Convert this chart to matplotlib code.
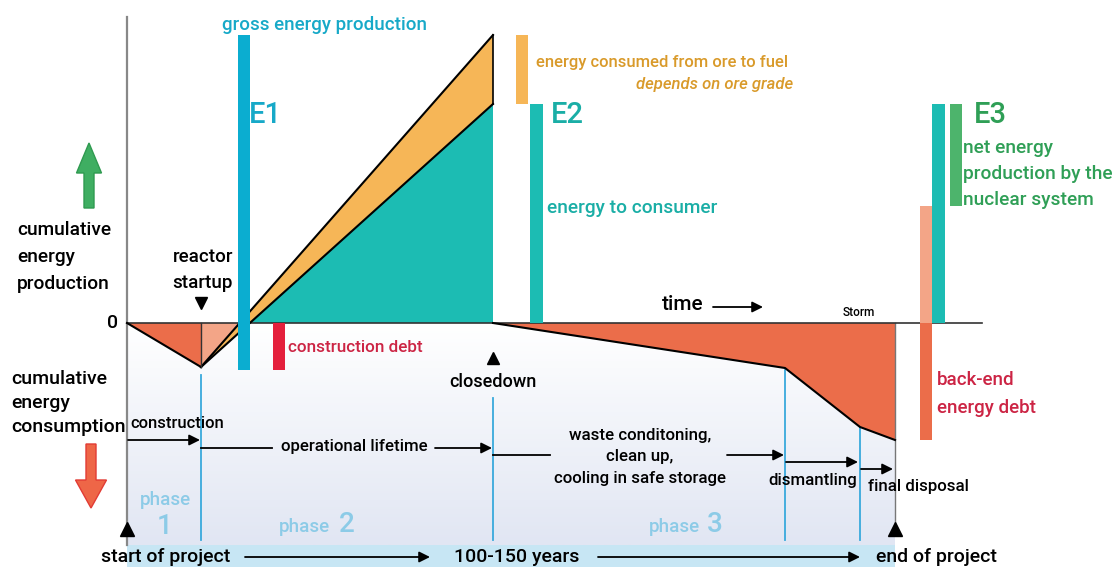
import numpy as np
import matplotlib.pyplot as plt
from matplotlib.patches import Polygon, FancyArrow, Rectangle
from matplotlib.colors import LinearSegmentedColormap

plt.rcParams['font.family'] = ['Roboto', 'DejaVu Sans']
plt.rcParams['font.weight'] = 'medium'

# time axis (arbitrary units): start, reactor startup, closedown,
# start dismantling, start final disposal, end of project
phase_times = [0, 74, 366, 658, 733, 768]
construction_debt = -44
gross_energy = 288      # E1 top
consumer_energy = 219   # E2 / net line at closedown
backend_times = [366, 658, 733, 768]
backend_energy = [0, -45, -104, -117]
backend_debt = -117
net_energy_top = consumer_energy
net_energy_bottom = -backend_debt   # 117

TEAL = '#1cbcb3'
CYAN = '#0badd0'
ORANGE = '#f6b657'
SALMON = '#f3a587'
ORED = '#eb6d4a'
RED = '#e41f3c'
GREEN = '#4db46c'
BLUE_LINE = '#39a9dc'
PHASE_TXT = '#8ccbe7'

fig = plt.figure(figsize=(11.13, 5.67), dpi=100)
ax = fig.add_axes([0, 0, 1, 1])
ax.set_xlim(-127, 986)
ax.set_ylim(-244, 323)
ax.axis('off')

t0, t_start, t_close, t_dism, t_disp, t_end = phase_times

# background gradient below zero
grad = np.linspace(0, 1, 200).reshape(-1, 1)
cmap = LinearSegmentedColormap.from_list('bg', ['#ffffff', '#e1e6f3'])
ax.imshow(grad, extent=[t0, t_end, -222, 0], origin='upper', aspect='auto',
          cmap=cmap, zorder=0)
ax.add_patch(Rectangle((t0, -244), t_end - t0, 22, color='#c7e6f4', lw=0, zorder=0.5))

# lines from startup
def line_at(y, top):
    return t_start + (y - construction_debt) * (t_close - t_start) / (top - construction_debt)

x_gross0 = line_at(0, gross_energy)
x_net0 = line_at(0, consumer_energy)

# construction triangle
ax.add_patch(Polygon([(t0, 0), (t_start, construction_debt), (t_start, 0)],
                     closed=True, fc=ORED, ec='none', zorder=2))
ax.add_patch(Polygon([(t_start, 0), (t_start, construction_debt), (x_gross0, 0)],
                     closed=True, fc=SALMON, ec='none', zorder=2))
# orange wedge (ore to fuel)
ax.add_patch(Polygon([(t_start, construction_debt), (t_close, gross_energy),
                      (t_close, consumer_energy)],
                     closed=True, fc=ORANGE, ec='none', zorder=2))
# teal triangle
ax.add_patch(Polygon([(x_net0, 0), (t_close, consumer_energy), (t_close, 0)],
                     closed=True, fc=TEAL, ec='none', zorder=2.5))
ax.plot([t_start, t_close], [construction_debt, gross_energy], color='black', lw=1.5, zorder=4)
ax.plot([t_start, t_close], [construction_debt, consumer_energy], color='black', lw=1.5, zorder=4)
ax.plot([t_close, t_close], [consumer_energy, gross_energy], color='black', lw=1.2, zorder=4)
ax.plot([t0, t_start], [0, construction_debt], color='black', lw=1.5, zorder=4)
ax.plot([t_start, t_start], [0, construction_debt], color='#333333', lw=1, zorder=4)

# back-end debt
ax.add_patch(Polygon(list(zip(backend_times, backend_energy)) + [(t_end, 0)],
                     closed=True, fc=ORED, ec='none', zorder=2))
ax.plot(backend_times, backend_energy, color='black', lw=1.5, zorder=4)
ax.plot([t_end, t_end], [0, -212], color='#777777', lw=1, zorder=3)

# axes
ax.plot([0, 0], [306, -222], color='#888888', lw=1.6, zorder=3)
ax.plot([0, 855], [0, 0], color='#333333', lw=1.2, zorder=3)

# bars
bw = 12
ax.add_patch(Rectangle((117 - bw / 2, construction_debt - 3), bw,
                       gross_energy - construction_debt + 3, color=CYAN, lw=0, zorder=5))
ax.add_patch(Rectangle((152 - bw / 2, construction_debt - 3), bw, -construction_debt + 3,
                       color=RED, lw=0, zorder=5))
ax.add_patch(Rectangle((395 - bw / 2, consumer_energy), bw, gross_energy - consumer_energy,
                       color=ORANGE, lw=0, zorder=5))
ax.add_patch(Rectangle((409.5 - 6.5, 0), 13, consumer_energy, color=TEAL, lw=0, zorder=5))
ax.add_patch(Rectangle((799 - bw / 2, 0), bw, net_energy_bottom, color=SALMON, lw=0, zorder=5))
ax.add_patch(Rectangle((799 - bw / 2, backend_debt), bw, -backend_debt, color=ORED, lw=0, zorder=5))
ax.add_patch(Rectangle((811.5 - 6.5, 0), 13, consumer_energy, color=TEAL, lw=0, zorder=5))
ax.add_patch(Rectangle((829 - bw / 2, net_energy_bottom), bw, net_energy_top - net_energy_bottom,
                       color=GREEN, lw=0, zorder=5))

# phase divider lines
for t, top in zip(phase_times[1:5], [-52, -75, -47, -104]):
    ax.plot([t, t], [top, -217], color=BLUE_LINE, lw=1.3, zorder=3)

# markers
ax.plot([t_start], [20], marker='v', color='black', ms=9, zorder=6)
ax.plot([t_close], [-35], marker='^', color='black', ms=9, zorder=6)
ax.plot([t0, t_end], [-206, -206], ls='none', marker='^', color='black', ms=10, zorder=6)

# big up/down arrows
ax.add_patch(FancyArrow(-38, 115, 0, 65, width=10, head_width=25,
                        head_length=30, length_includes_head=True,
                        fc='#3fae62', ec='#2f9a50', lw=1, zorder=5))
ax.add_patch(FancyArrow(-36, -121, 0, -64, width=10, head_width=31,
                        head_length=28, length_includes_head=True,
                        fc='#ee6647', ec='#e23b34', lw=1, zorder=5))

# timeline arrows
arr = dict(arrowstyle='-|>', color='black', lw=1.3, mutation_scale=16, shrinkA=0, shrinkB=0)
def harrow(x0, x1, y):
    ax.annotate('', xy=(x1, y), xytext=(x0, y), arrowprops=arr, zorder=6)

harrow(1, t_start - 1, -117)
ax.plot([t_start, 145], [-125, -125], color='black', lw=1.3, zorder=6)
harrow(308, t_close - 1, -125)
ax.plot([t_close, 423], [-132, -132], color='black', lw=1.3, zorder=6)
harrow(600, t_dism - 1, -132)
harrow(t_dism + 1, t_disp - 2, -139)
harrow(t_disp + 1, t_end - 2, -146)
harrow(586, 636, 16)
harrow(118, 303, -234)
harrow(471, t_disp, -234)

# texts
def txt(x, y, s, **kw):
    kw.setdefault('fontsize', 12.5)
    kw.setdefault('va', 'center')
    ax.text(x, y, s, zorder=7, **kw)

txt(95, 298, 'gross energy production', color='#17a9c8', fontsize=13.5)
txt(122, 208, 'E1', color='#17a9c8', fontsize=21)
txt(409, 261, 'energy consumed from ore to fuel', color='#d99a2a', fontsize=12)
txt(666, 239, 'depends on ore grade', color='#d99a2a', fontsize=12, style='italic', ha='right')
txt(424, 208, 'E2', color='#1aaea6', fontsize=21)
txt(420, 115, 'energy to consumer', color='#1aaea6', fontsize=13.8)
txt(847, 208, 'E3', color='#2f9f56', fontsize=21)
txt(836, 149, 'net energy\nproduction by the\nnuclear system', color='#2f9f56',
    fontsize=13.8, linespacing=1.6)
txt(161, -24, 'construction debt', color='#cc2444', fontsize=12.3)
txt(810, -71, 'back-end\nenergy debt', color='#cc2444', fontsize=13.5, linespacing=1.7)
txt(-110, 66, 'cumulative\nenergy\nproduction', color='black', fontsize=13.8, linespacing=1.65)
txt(-116, -80, 'cumulative\nenergy\nconsumption', color='black', fontsize=14, linespacing=1.45)
txt(-9, 0, '0', color='black', fontsize=14, ha='right')
txt(106, 53, 'reactor\nstartup', color='black', fontsize=13.5, ha='right', linespacing=1.55)
txt(366, -59, 'closedown', color='black', fontsize=13, ha='center')
txt(556, 18, 'time', color='black', fontsize=15, ha='center')
txt(732, 10, 'Storm', color='black', fontsize=8.5, ha='center')
txt(3, -101, 'construction', color='black', fontsize=12)
txt(227, -124, 'operational lifetime', color='black', fontsize=12.2, ha='center')
txt(513, -134, 'waste conditoning,\nclean up,\ncooling in safe storage', color='black',
    fontsize=12.2, ha='center', linespacing=1.55)
txt(686, -157, 'dismantling', color='black', fontsize=12.2, ha='center')
txt(791, -164, 'final disposal', color='black', fontsize=12.2, ha='center')
txt(38, -177, 'phase', color=PHASE_TXT, fontsize=13.5, ha='center')
txt(38, -203, '1', color=PHASE_TXT, fontsize=20, ha='center')
txt(177, -204, 'phase', color=PHASE_TXT, fontsize=13.5, ha='center')
txt(220, -202, '2', color=PHASE_TXT, fontsize=20, ha='center')
txt(547, -204, 'phase', color=PHASE_TXT, fontsize=13.5, ha='center')
txt(588, -202, '3', color=PHASE_TXT, fontsize=20, ha='center')
txt(39, -234, 'start of project', color='black', fontsize=14, ha='center')
txt(390, -234, '100-150 years', color='black', fontsize=14, ha='center')
txt(809, -234, 'end of project', color='black', fontsize=14, ha='center')

fig.savefig('out.png', dpi=100)
